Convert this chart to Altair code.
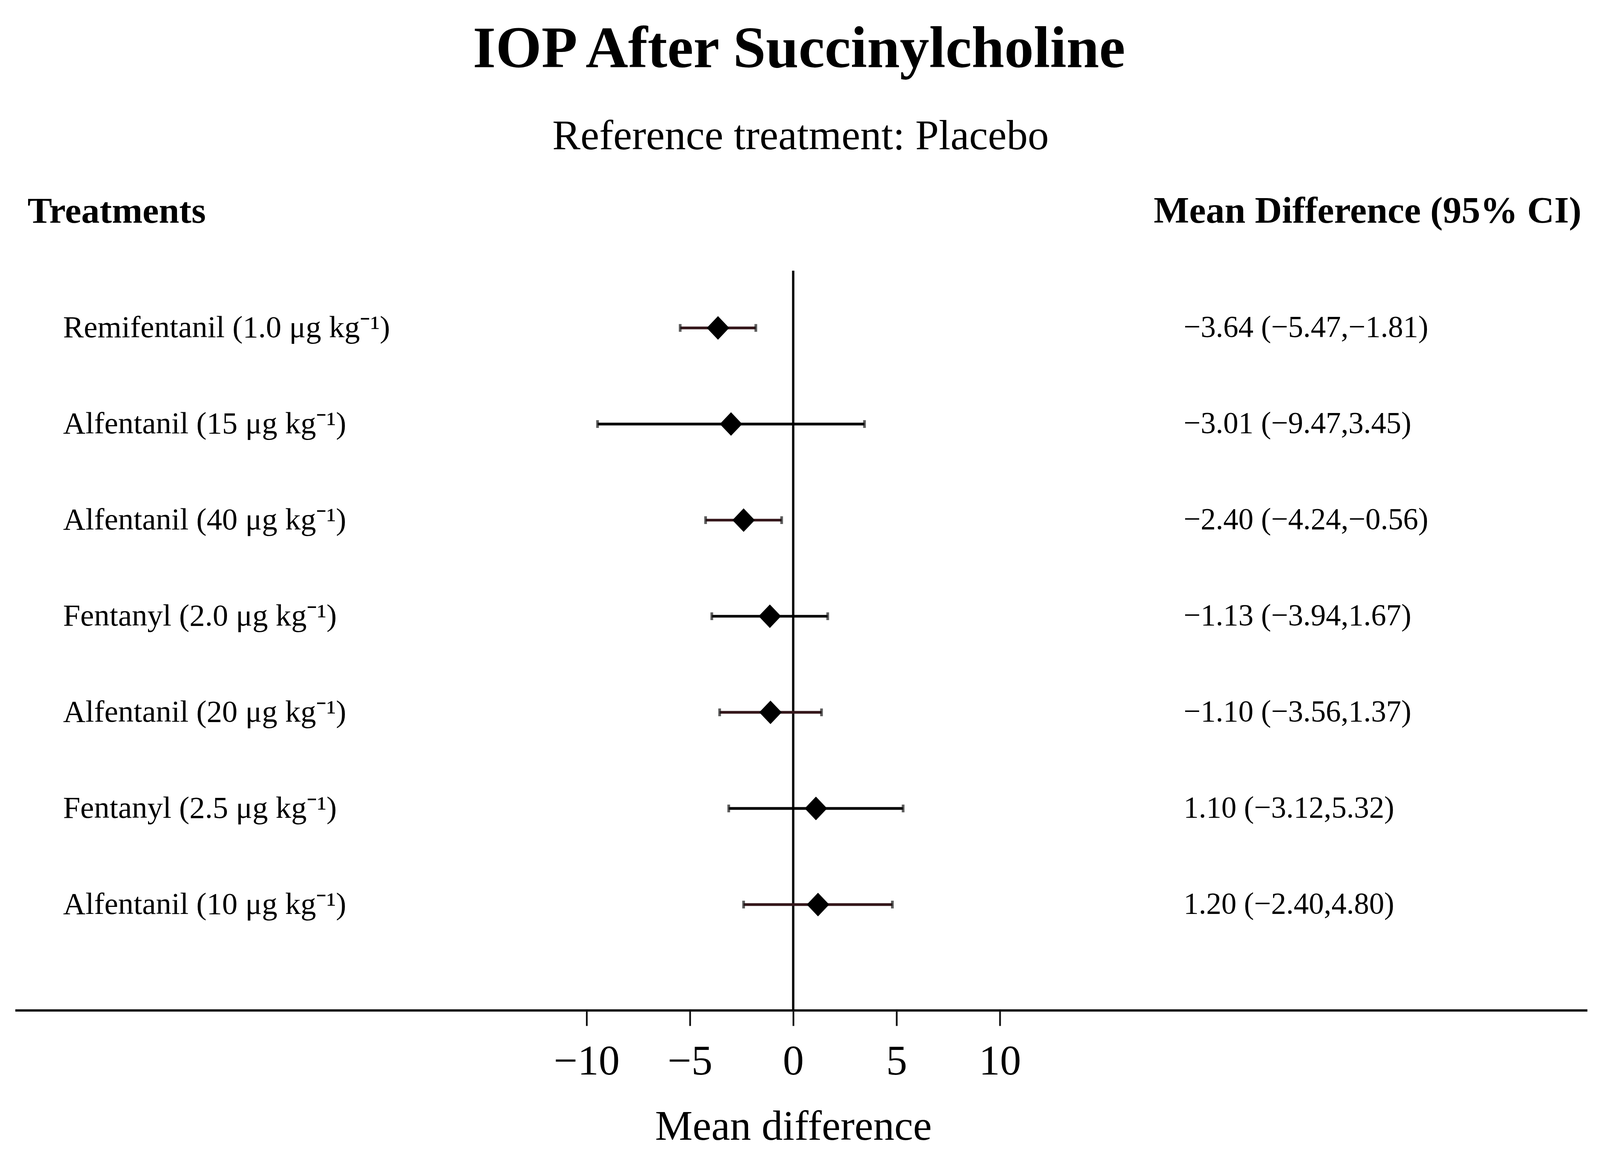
import altair as alt
import pandas as pd

# ---- data ----
treatments = [
    "Remifentanil (1.0 μg kg⁻¹)",
    "Alfentanil (15 μg kg⁻¹)",
    "Alfentanil (40 μg kg⁻¹)",
    "Fentanyl (2.0 μg kg⁻¹)",
    "Alfentanil (20 μg kg⁻¹)",
    "Fentanyl (2.5 μg kg⁻¹)",
    "Alfentanil (10 μg kg⁻¹)",
]
mean_diff = [-3.64, -3.01, -2.40, -1.13, -1.10, 1.10, 1.20]
ci_low = [-5.47, -9.47, -4.24, -3.94, -3.56, -3.12, -2.40]
ci_high = [-1.81, 3.45, -0.56, 1.67, 1.37, 5.32, 4.80]
x_ticks = [-10, -5, 0, 5, 10]
reference_value = [0]

title_text = "IOP After Succinylcholine"
subtitle_text = "Reference treatment: Placebo"
left_header = "Treatments"
right_header = "Mean Difference (95% CI)"
x_title = "Mean difference"

# ---- styles (kept separate from the data) ----
bar_colors = ["#34161a", "#000000", "#34161a", "#000000", "#34161a", "#000000", "#34161a"]
FONT = "Liberation Serif"


def fmt(v):
    return f"{v:.2f}".replace("-", "\u2212")


df = pd.DataFrame({
    "treatment": treatments,
    "md": mean_diff,
    "lo": ci_low,
    "hi": ci_high,
    "row": list(range(len(treatments))),
})
df["ci_text"] = [f"{fmt(m)} ({fmt(l)},{fmt(h)})" for m, l, h in zip(mean_diff, ci_low, ci_high)]

W, H = 4063, 1911

xscale = alt.Scale(domain=[-37.66, 38.43], nice=False, zero=False)
yscale = alt.Scale(domain=[-0.596, 7.100], reverse=True, nice=False, zero=False)
Y = alt.Y("row:Q", scale=yscale, axis=None)

xaxis = alt.Axis(
    values=x_ticks, grid=False, domainWidth=6, domainColor="#111111",
    tickWidth=4.5, tickColor="#111111", tickSize=40,
    labelFont=FONT, labelFontSize=109, labelColor="#000000",
    labelPadding=126, labelBaseline="alphabetic", labelFlush=False, labelOverlap=False,
    titleFont=FONT, titleFontSize=109, titleFontWeight="normal", titleColor="#000000",
    titleBaseline="alphabetic", titleY=334, titleX=2011, titleAlign="center",
    format="d",
)

base = alt.Chart(df)

ref_line = alt.Chart(pd.DataFrame({"ref": reference_value})).mark_rule(
    color="#000000", strokeWidth=6
).encode(x=alt.X("ref:Q", scale=xscale, axis=xaxis, title=x_title))

ci_color = alt.Color("treatment:N", scale=alt.Scale(domain=treatments, range=bar_colors), legend=None)

ci_rule = base.mark_rule(strokeWidth=7).encode(
    x=alt.X("lo:Q", scale=xscale, title=x_title), x2="hi:Q", y=Y, color=ci_color
)
cap_lo = base.mark_tick(orient="vertical", size=20, thickness=7, color="#1a1a1a").encode(
    x=alt.X("lo:Q", scale=xscale, title=x_title), y=Y
)
cap_hi = base.mark_tick(orient="vertical", size=20, thickness=7, color="#1a1a1a").encode(
    x=alt.X("hi:Q", scale=xscale, title=x_title), y=Y
)
points = base.mark_point(
    shape="M0,-1.05L1,0L0,1.05L-1,0Z", size=3364, filled=True, color="#000000", opacity=1
).encode(x=alt.X("md:Q", scale=xscale, title=x_title), y=Y)

row_labels = base.mark_text(
    font=FONT, fontSize=80, align="left", baseline="middle", color="#000000"
).encode(x=alt.value(124), y=Y, text="treatment:N")

ci_labels = base.mark_text(
    font=FONT, fontSize=78, align="left", baseline="middle", color="#000000"
).encode(x=alt.value(3020), y=Y, text="ci_text:N")


def label(text, x, y, size, weight="normal", align="center"):
    return alt.Chart(pd.DataFrame({"t": [text]})).mark_text(
        font=FONT, fontSize=size, fontWeight=weight, align=align,
        baseline="alphabetic", color="#000000"
    ).encode(x=alt.value(x), y=alt.value(y), text="t:N")


title_mark = label(title_text, 2026, -526, 152, "bold")
subtitle_mark = label(subtitle_text, 2030, -314, 109)
left_head = label(left_header, 32, -124, 95, "bold", "left")
right_head = label(right_header, 4048, -124, 97, "bold", "right")

chart = alt.layer(
    ref_line, ci_rule, cap_lo, cap_hi, points, row_labels, ci_labels,
    title_mark, subtitle_mark, left_head, right_head,
).properties(
    width=W, height=H,
    autosize=alt.AutoSizeParams(type="none"),
    padding={"left": 31, "top": 677, "right": 25, "bottom": 380},
    background="#ffffff",
).configure_view(strokeWidth=0)

chart.save("out.html", embed_options={"renderer": "svg", "actions": False})
